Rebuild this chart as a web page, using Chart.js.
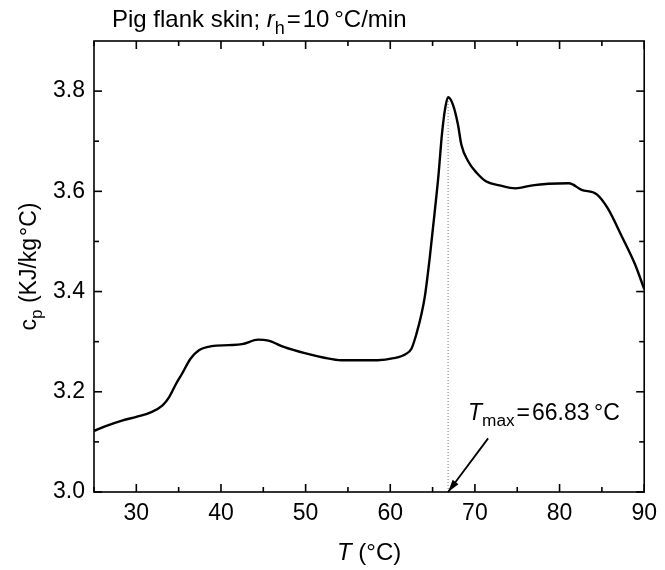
<!DOCTYPE html>
<html>
<head>
<meta charset="utf-8">
<script src="https://cdn.jsdelivr.net/npm/chart.js@4/dist/chart.umd.min.js"></script>
<style>
  body { margin: 0; background: #fff; }
  #wrap { width: 665px; height: 570px; }
</style>
</head>
<body>
<div id="wrap"><canvas id="out" width="665" height="570"></canvas></div>
<script>
// temperature (°C) and specific heat cp (kJ/kg°C)
const temps = [25.0, 26.3, 28.4, 30.0, 31.7, 33.1, 33.9, 34.7, 35.4, 36.4, 37.4, 38.9, 40.9, 42.5, 44.4, 45.6,
    47.5, 49.9, 52.2, 54.2, 56.5, 58.5, 60.4, 61.8, 62.5, 63.1, 63.7, 64.1, 64.7, 65.3, 65.7, 66.1, 66.5, 66.83,
    67.4, 68.0, 68.4, 69.2, 70.2, 71.3, 72.9, 74.8, 76.8, 78.7, 81.1, 82.6, 84.4, 85.7, 87.3, 88.9, 90.0];
const cp = [3.122, 3.131, 3.143, 3.150, 3.159, 3.173, 3.190, 3.216, 3.236, 3.266, 3.283, 3.291, 3.293, 3.295, 3.304, 3.302,
    3.289, 3.277, 3.268, 3.263, 3.263, 3.263, 3.267, 3.275, 3.286, 3.316, 3.356, 3.392, 3.473, 3.567, 3.633, 3.713, 3.767, 3.788,
    3.773, 3.733, 3.693, 3.660, 3.637, 3.620, 3.612, 3.606, 3.612, 3.615, 3.616, 3.603, 3.594, 3.566, 3.512, 3.455, 3.405];

const tMax = 66.83;
const cpMax = 3.788;
const arrowTail = [71.56, 3.107];

const xTicks = [30, 40, 50, 60, 70, 80, 90];
const xMinor = [25, 35, 45, 55, 65, 75, 85];
const yTicks = [3.0, 3.2, 3.4, 3.6, 3.8];
const yMinor = [3.1, 3.3, 3.5, 3.7];

const FONT = "'Liberation Sans', Arial, sans-serif";

// draws a run of text pieces, some italic, some subscript
function richText(ctx, x, y, parts, size, align) {
    const fontOf = p => (p.italic ? "italic " : "") + (p.sub ? size * 0.75 : size) + "px " + FONT;
    let w = 0;
    parts.forEach(p => { ctx.font = fontOf(p); w += ctx.measureText(p.t).width; });
    let cx = align === "center" ? x - w / 2 : x;
    ctx.textAlign = "left";
    ctx.textBaseline = "alphabetic";
    parts.forEach(p => {
        ctx.font = fontOf(p);
        ctx.fillText(p.t, cx, p.sub ? y + size * 0.28 : y);
        cx += ctx.measureText(p.t).width;
    });
}

const decorPlugin = {
    id: "decor",
    afterDatasetsDraw(chart) {
        const ctx = chart.ctx;
        const xs = chart.scales.x, ys = chart.scales.y;
        const a = chart.chartArea;
        ctx.save();
        ctx.strokeStyle = "#000";
        ctx.fillStyle = "#000";
        ctx.lineWidth = 1.6;
        ctx.strokeRect(a.left, a.top, a.right - a.left, a.bottom - a.top);

        const tick = (x1, y1, x2, y2) => { ctx.beginPath(); ctx.moveTo(x1, y1); ctx.lineTo(x2, y2); ctx.stroke(); };
        xTicks.concat(xMinor).forEach((v, i) => {
            const len = i < xTicks.length ? 8 : 5;
            const px = xs.getPixelForValue(v);
            tick(px, a.bottom, px, a.bottom - len);
            tick(px, a.top, px, a.top + len);
        });
        yTicks.concat(yMinor).forEach((v, i) => {
            const len = i < yTicks.length ? 8 : 5;
            const py = ys.getPixelForValue(v);
            tick(a.left, py, a.left + len, py);
            tick(a.right, py, a.right - len, py);
        });

        // arrow pointing at Tmax
        const hx = xs.getPixelForValue(tMax), hy = ys.getPixelForValue(3.0);
        const tx = xs.getPixelForValue(arrowTail[0]), ty = ys.getPixelForValue(arrowTail[1]);
        ctx.lineWidth = 1.8;
        tick(tx, ty, hx, hy);
        const ang = Math.atan2(hy - ty, hx - tx);
        ctx.beginPath();
        ctx.moveTo(hx, hy);
        ctx.lineTo(hx - 13 * Math.cos(ang - 0.28), hy - 13 * Math.sin(ang - 0.28));
        ctx.lineTo(hx - 13 * Math.cos(ang + 0.28), hy - 13 * Math.sin(ang + 0.28));
        ctx.closePath();
        ctx.fill();

        // texts
        richText(ctx, 112, 27, [{ t: "Pig flank skin; " }, { t: "r", italic: true }, { t: "h", sub: true }, { t: "\u200a=\u200a10\u2009°C/min" }], 24);
        richText(ctx, 468, 420, [{ t: "T", italic: true }, { t: "max", sub: true }, { t: "\u200a=\u200a66.83\u2009°C" }], 23);
        richText(ctx, (a.left + a.right) / 2, 560, [{ t: "T", italic: true }, { t: " (°C)" }], 24, "center");
        ctx.translate(36, (a.top + a.bottom) / 2);
        ctx.rotate(-Math.PI / 2);
        richText(ctx, 0, 0, [{ t: "c" }, { t: "p", sub: true }, { t: " (KJ/kg\u200a°C)" }], 23, "center");
        ctx.restore();
    }
};

const chartConfig = {
    type: "line",
    data: {
        datasets: [
            {
                data: temps.map((t, i) => ({ x: t, y: cp[i] })),
                borderColor: "#000",
                borderWidth: 2.4,
                pointRadius: 0,
                tension: 0.3,
                cubicInterpolationMode: "monotone"
            },
            {
                data: [{ x: tMax, y: 3.0 }, { x: tMax, y: cpMax }],
                borderColor: "#777",
                borderWidth: 1,
                borderDash: [1, 2],
                pointRadius: 0
            }
        ]
    },
    options: {
        responsive: false,
        animation: false,
        layout: { padding: { top: 41, right: 14, left: 0, bottom: 0 } },
        plugins: { legend: { display: false }, tooltip: { enabled: false } },
        scales: {
            x: {
                type: "linear",
                min: 25,
                max: 90,
                grid: { display: false, drawTicks: false },
                border: { display: false },
                afterBuildTicks: s => { s.ticks = xTicks.map(v => ({ value: v })); },
                afterFit: s => { s.height = 78; },
                ticks: { color: "#000", padding: 8, font: { size: 23, family: FONT }, maxRotation: 0 }
            },
            y: {
                min: 3.0,
                max: 3.9,
                grid: { display: false, drawTicks: false },
                border: { display: false },
                afterBuildTicks: s => { s.ticks = yTicks.map(v => ({ value: v })); },
                afterFit: s => { s.width = 94; },
                ticks: { color: "#000", padding: 9, font: { size: 23, family: FONT }, callback: v => v.toFixed(1) }
            }
        }
    },
    plugins: [decorPlugin]
};

new Chart(document.getElementById("out").getContext("2d"), chartConfig);
</script>
</body>
</html>
